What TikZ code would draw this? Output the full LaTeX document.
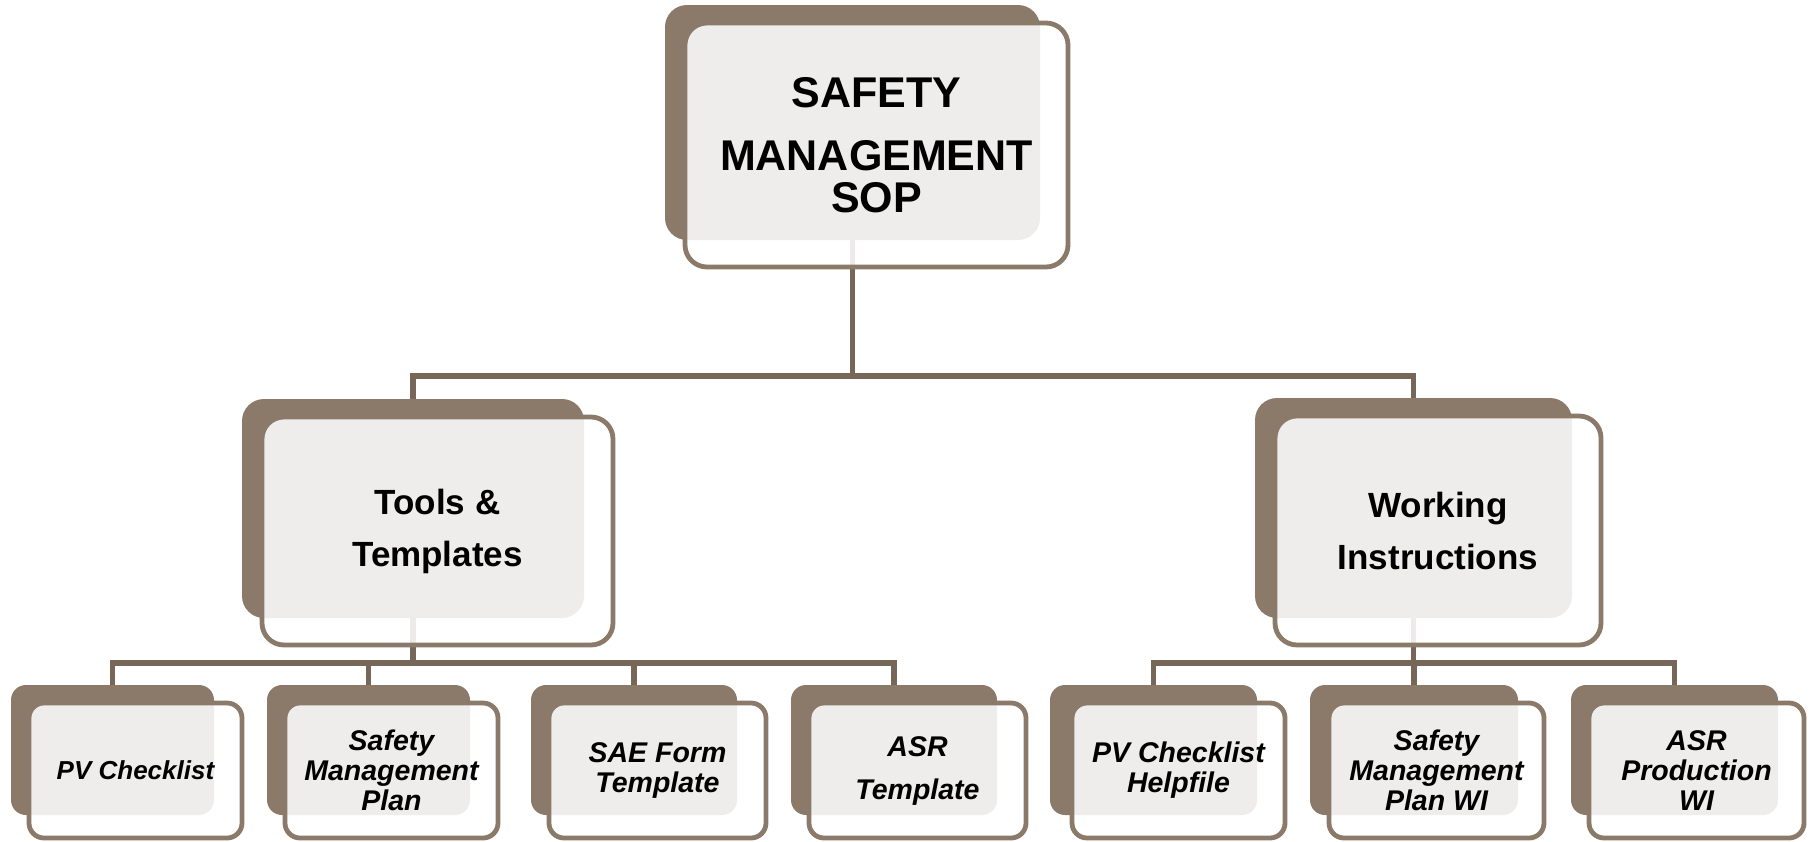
\documentclass[tikz,border=0pt]{standalone}
\usepackage{fontspec}
\setmainfont{Liberation Sans}
\definecolor{boxbrown}{RGB}{139,122,105}
\definecolor{connbrown}{RGB}{118,103,88}
\begin{document}
\begin{tikzpicture}[x=1pt,y=-1pt,
  backbox/.style={draw=none, fill=boxbrown, rounded corners=#1, inner sep=0pt},
  backbox/.default=22pt,
  frontbox/.style={draw=boxbrown, line width=4.8pt, fill=white, fill opacity=0.87, text opacity=1,
     rounded corners=#1, inner sep=0pt, align=center, text=black},
  frontbox/.default=22pt,
  conn/.style={draw=connbrown, line width=5.2pt},
  topfont/.style={font=\fontsize{43}{42}\selectfont\bfseries},
  midfont/.style={font=\fontsize{35}{52}\selectfont\bfseries},
  lowfont/.style={font=\fontsize{28.5}{30}\selectfont\bfseries\itshape},
]
\useasboundingbox (0,0) rectangle (1814,841);

% back boxes
\node[backbox, minimum width=375pt, minimum height=235pt] (top) at (852.5,122.5) {};
\node[backbox, minimum width=342pt, minimum height=219pt] (tools) at (413,508.5) {};
\node[backbox, minimum width=317pt, minimum height=220pt] (work) at (1413.5,508) {};
\node[backbox=15pt, minimum width=203pt, minimum height=130pt] (pv) at (112.5,750) {};
\node[backbox=15pt, minimum width=203pt, minimum height=130pt] (smp) at (368.5,750) {};
\node[backbox=15pt, minimum width=206pt, minimum height=130pt] (sae) at (634,750) {};
\node[backbox=15pt, minimum width=206pt, minimum height=130pt] (asr) at (894,750) {};
\node[backbox=15pt, minimum width=207pt, minimum height=130pt] (pvh) at (1153.5,750) {};
\node[backbox=15pt, minimum width=208pt, minimum height=130pt] (smpw) at (1414,750) {};
\node[backbox=15pt, minimum width=207pt, minimum height=130pt] (asrp) at (1674.5,750) {};

% connectors
\coordinate (h1) at (0,376);
\coordinate (h2) at (0,663);
\coordinate (jtop) at (top.south |- h1);
\coordinate (jtools) at (tools.south |- h2);
\coordinate (jwork) at (work.south |- h2);
\draw[conn] (top.south) -- (jtop);
\draw[conn] (tools.north) |- (jtop) -| (work.north);
\draw[conn] (tools.south) -- (jtools);
\draw[conn] (pv.north) |- (jtools) -| (asr.north);
\draw[conn] (smp.north) -- (smp.north |- h2);
\draw[conn] (sae.north) -- (sae.north |- h2);
\draw[conn] (work.south) -- (jwork);
\draw[conn] (pvh.north) |- (jwork) -| (asrp.north);
\draw[conn] (smpw.north) -- (smpw.north |- h2);

% front boxes with text
\node[frontbox, topfont, minimum width=383pt, minimum height=244pt] (topF) at (876.5,145) {SAFETY\\[21pt]MANAGEMENT\\SOP};
\node[frontbox, midfont, minimum width=351pt, minimum height=228pt] (toolsF) at (437.5,531) {Tools \&\\Templates};
\node[frontbox, midfont, minimum width=326pt, minimum height=229pt] (workF) at (1438,530.5) {Working\\Instructions};
\node[frontbox=15pt, lowfont, font=\fontsize{26}{30}\selectfont\bfseries\itshape, minimum width=213pt, minimum height=135pt] (pvF) at (135.5,770.5) {PV Checklist};
\node[frontbox=15pt, lowfont, minimum width=213pt, minimum height=135pt] (smpF) at (391.5,770.5) {Safety\\Management\\Plan};
\node[frontbox=15pt, lowfont, minimum width=217pt, minimum height=135pt] (saeF) at (657.5,770.5) {SAE Form\\Template};
\node[frontbox=15pt, lowfont, minimum width=217pt, minimum height=135pt] (asrF) at (917.5,770.5) {ASR\\[13pt]Template};
\node[frontbox=15pt, lowfont, minimum width=213pt, minimum height=135pt] (pvhF) at (1178.5,770.5) {PV Checklist\\Helpfile};
\node[frontbox=15pt, lowfont, minimum width=215pt, minimum height=135pt] (smpwF) at (1436.5,770.5) {Safety\\Management\\Plan WI};
\node[frontbox=15pt, lowfont, minimum width=215pt, minimum height=135pt] (asrpF) at (1696.5,770.5) {ASR\\Production\\WI};
\end{tikzpicture}
\end{document}
